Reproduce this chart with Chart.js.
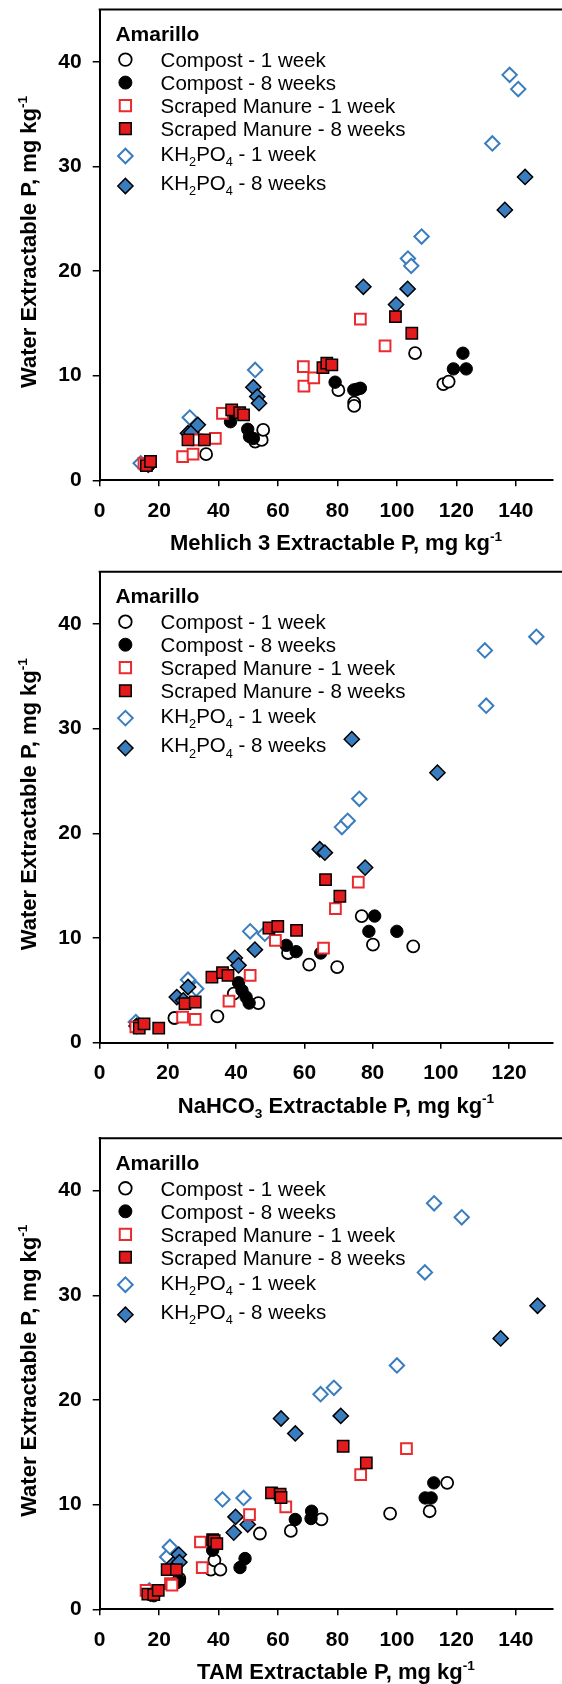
<!DOCTYPE html>
<html>
<head>
<meta charset="utf-8">
<script src="https://cdn.jsdelivr.net/npm/chart.js@4"></script>
<style>
  body { margin: 0; background: #fff; }
  canvas { display: block; }
</style>
</head>
<body>
<canvas id="chartM3" width="562" height="562"></canvas>
<canvas id="chartNa" width="562" height="566"></canvas>
<canvas id="chartTam" width="562" height="556"></canvas>
<script>
// ---- data: [extractable P, water extractable P] in mg/kg ----
// Mehlich 3
var m3Compost1 = [[16,1.5],[35.8,2.5],[52.3,3.7],[54.5,3.86],[55.0,4.82],[80.3,8.62],[85.6,7.43],[85.6,7.11],[106.1,12.15],[115.6,9.19],[117.4,9.44]];
var m3Compost8 = [[16.5,1.4],[44.0,5.6],[49.8,4.88],[50.4,4.18],[51.7,4.0],[79.2,9.38],[85.5,8.64],[86.5,8.7],[87.7,8.8],[119.0,10.65],[122.2,12.15],[123.3,10.65]];
var m3Manure1 = [[14.9,1.63],[17.1,1.8],[27.9,2.27],[31.4,2.5],[32.5,3.86],[38.9,4.0],[41.3,6.4],[68.5,10.87],[68.7,9.0],[72.0,9.8],[87.7,15.4],[96.0,12.85]];
var m3Manure8 = [[15.7,1.4],[17.1,1.8],[29.7,3.86],[35.2,3.86],[44.4,6.73],[47.1,6.47],[48.4,6.25],[75.1,10.78],[76.4,11.2],[78.1,11.03],[99.5,15.65],[105.0,14.06]];
var m3Kh1 = [[13.8,1.63],[16.0,1.63],[30.3,6.0],[52.3,10.55],[103.7,21.2],[104.8,20.5],[108.3,23.3],[132.1,32.2],[137.9,38.76],[140.8,37.4]];
var m3Kh8 = [[16.3,1.5],[29.7,4.5],[30.8,4.56],[33.0,5.3],[51.7,8.9],[53.0,8.0],[53.6,7.37],[88.7,18.5],[99.7,16.8],[103.6,18.3],[136.3,25.85],[143.1,29.0]];

// NaHCO3
var naCompost1 = [[11,1.6],[21.9,2.36],[34.5,2.51],[39.3,4.68],[46.5,3.79],[55.2,8.57],[61.4,7.45],[69.6,7.23],[76.8,12.1],[80.1,9.37],[91.9,9.21]];
var naCompost8 = [[10.8,1.45],[40.7,5.73],[41.7,5.0],[42.9,4.36],[43.8,3.79],[54.7,9.3],[57.6,8.7],[64.8,8.57],[78.9,10.64],[80.6,12.1],[87.1,10.64]];
var naManure1 = [[10.6,1.5],[24.3,2.45],[28.0,2.23],[37.9,3.98],[44.1,6.43],[51.5,9.78],[65.6,9.04],[69.1,12.8],[75.8,15.35]];
var naManure8 = [[11.6,1.4],[13.0,1.8],[17.3,1.4],[25.0,3.73],[28.0,3.89],[32.9,6.27],[36.0,6.69],[37.6,6.43],[49.6,10.96],[52.2,11.12],[57.7,10.74],[66.2,15.58],[70.4,13.99]];
var naKh1 = [[10.6,1.97],[25.9,6.02],[28.3,5.16],[44.1,10.64],[48.4,10.42],[71.0,20.6],[72.7,21.2],[76.1,23.3],[112.9,37.48],[113.3,32.2],[128.0,38.78]];
var naKh8 = [[10.8,1.6],[22.6,4.36],[24.5,4.04],[25.9,5.32],[39.6,8.1],[40.7,7.39],[45.5,8.89],[64.5,18.48],[66.0,18.16],[73.9,29.0],[77.8,16.73],[99.0,25.8]];

// TAM
var tamCompost1 = [[17,1.5],[25.8,2.55],[26.8,2.93],[37.4,3.79],[38.6,4.68],[40.6,3.79],[53.9,7.24],[64.3,7.49],[74.6,8.6],[97.7,9.15],[111.0,9.37],[116.9,12.08]];
var tamCompost8 = [[18.2,1.3],[26.8,2.7],[38.0,5.64],[47.2,3.99],[48.9,4.85],[65.8,8.58],[71.1,8.67],[71.3,9.37],[109.5,10.64],[111.5,10.64],[112.4,12.08]];
var tamManure1 = [[15.6,1.8],[23.8,2.45],[24.3,2.3],[33.9,6.43],[34.5,3.98],[50.4,9.05],[62.6,9.78],[87.8,12.87],[103.2,15.36]];
var tamManure8 = [[16.2,1.45],[18.2,1.4],[19.7,1.8],[22.7,3.79],[25.8,3.79],[38.0,6.66],[38.5,6.55],[39.4,6.28],[57.8,11.12],[60.7,10.99],[61.0,10.68],[81.9,15.58],[89.7,13.99]];
var tamKh1 = [[16.7,1.8],[22.7,5.0],[23.6,5.96],[41.3,10.5],[48.4,10.64],[74.3,20.55],[78.8,21.16],[100.0,23.3],[109.4,32.19],[112.5,38.79],[121.8,37.45]];
var tamKh8 = [[17,1.5],[25.0,4.37],[26.6,5.23],[26.8,4.5],[45.1,7.33],[45.7,8.83],[49.8,8.1],[61.0,18.23],[65.8,16.8],[81.1,18.48],[134.9,25.88],[147.3,29.0]];

var xTicksWide = [0, 20, 40, 60, 80, 100, 120, 140];
var xTicksNa = [0, 20, 40, 60, 80, 100, 120];
var yTicks = [0, 10, 20, 30, 40];

var siteName = 'Amarillo';
// legend text, parts: [text, 'sub'|'sup'|undefined]
var seriesNames = [
  [['Compost - 1 week']],
  [['Compost - 8 weeks']],
  [['Scraped Manure - 1 week']],
  [['Scraped Manure - 8 weeks']],
  [['KH'], ['2', 'sub'], ['PO'], ['4', 'sub'], [' - 1 week']],
  [['KH'], ['2', 'sub'], ['PO'], ['4', 'sub'], [' - 8 weeks']]
];
var yTitle = [['Water Extractable P, mg kg'], ['-1', 'sup']];

var FONT = '"Liberation Sans", Arial, Helvetica, sans-serif';
var BLUE = '#3a7dbf';
var RED = '#e41b1c';
var RED_LINE = '#ea2a2e';

// marker styles in legend order
var styles = [
  { pointStyle: 'circle', r: 6, bg: '#fff', border: '#000', bw: 1.8, order: 3 },
  { pointStyle: 'circle', r: 6.2, bg: '#000', border: '#000', bw: 1, order: 2 },
  { pointStyle: 'rect', r: 7.6, bg: '#fff', border: RED_LINE, bw: 2, order: 1 },
  { pointStyle: 'rect', r: 8, bg: RED, border: '#000', bw: 1.5, order: 0 },
  { pointStyle: 'rectRot', r: 7.2, bg: '#fff', border: BLUE, bw: 2, order: 5 },
  { pointStyle: 'rectRot', r: 7.6, bg: BLUE, border: '#000', bw: 1.5, order: 4 }
];

function richWidth(ctx, parts, size, weight) {
  var w = 0;
  parts.forEach(function(p) {
    var s = p[1] ? size * 0.62 : size;
    ctx.font = weight + ' ' + s + 'px ' + FONT;
    w += ctx.measureText(p[0]).width;
  });
  return w;
}

// draws text with sub/superscripts, y is the baseline
function drawRich(ctx, parts, x, y, size, weight, align) {
  var w = richWidth(ctx, parts, size, weight);
  var cx = align === 'center' ? x - w / 2 : x;
  ctx.textAlign = 'left';
  ctx.textBaseline = 'alphabetic';
  ctx.fillStyle = '#000';
  parts.forEach(function(p) {
    var s = p[1] ? size * 0.62 : size;
    var dy = p[1] === 'sub' ? size * 0.25 : (p[1] === 'sup' ? -size * 0.42 : 0);
    ctx.font = weight + ' ' + s + 'px ' + FONT;
    ctx.fillText(p[0], cx, y + dy);
    cx += ctx.measureText(p[0]).width;
  });
}

var decorPlugin = {
  id: 'decor',
  afterDraw: function(chart, args, opts) {
    var ctx = chart.ctx;
    var a = chart.chartArea;
    ctx.save();

    // top frame line (the box runs off the right edge)
    ctx.strokeStyle = '#000';
    ctx.lineWidth = 2;
    ctx.beginPath();
    ctx.moveTo(a.left - 1, a.top);
    ctx.lineTo(chart.width, a.top);
    ctx.stroke();

    // legend
    ctx.font = 'bold 21px ' + FONT;
    ctx.fillStyle = '#000';
    ctx.textAlign = 'left';
    ctx.textBaseline = 'alphabetic';
    ctx.fillText(siteName, 115.4, a.top + 24 + 7.5);

    var textRows = [50, 73, 96, 119, 144, 173.4];
    var markRows = [50, 73, 96, 119, 146.4, 176.4];
    var legendR = [6.3, 6.5, 8, 8.2, 7.3, 7.6];
    seriesNames.forEach(function(parts, i) {
      var st = styles[i];
      ctx.fillStyle = st.bg;
      ctx.strokeStyle = st.border;
      ctx.lineWidth = st.bw;
      Chart.helpers.drawPoint(ctx, { pointStyle: st.pointStyle, radius: legendR[i], rotation: 0, borderWidth: st.bw }, 125.4, a.top + markRows[i]);
      drawRich(ctx, parts, 160.6, a.top + textRows[i] + 7.3, 20.5, 'normal', 'left');
    });

    // x axis title
    drawRich(ctx, opts.xTitle, 336, a.bottom + 62 + 7.8, 22, 'bold', 'center');

    // y axis title
    ctx.save();
    ctx.translate(28, (a.top + a.bottom) / 2 - 3);
    ctx.rotate(-Math.PI / 2);
    drawRich(ctx, yTitle, 0, 7.8, 22, 'bold', 'center');
    ctx.restore();

    ctx.restore();
  }
};

function toPoints(arr) {
  return arr.map(function(p) { return { x: p[0], y: p[1] }; });
}

function makeChart(id, series, xMax, xTicks, xTitle, topPad) {
  var canvas = document.getElementById(id);
  var plotH = 471;
  var xAxisH = canvas.height - topPad - plotH;
  var datasets = series.map(function(d, i) {
    var st = styles[i];
    return {
      label: seriesNames[i].map(function(p) { return p[0]; }).join(''),
      data: toPoints(d),
      pointStyle: st.pointStyle,
      pointRadius: st.r,
      pointBackgroundColor: st.bg,
      pointBorderColor: st.border,
      pointBorderWidth: st.bw,
      showLine: false,
      order: st.order
    };
  });
  return new Chart(canvas.getContext('2d'), {
    type: 'scatter',
    data: { datasets: datasets },
    plugins: [decorPlugin],
    options: {
      responsive: false,
      animation: false,
      events: [],
      layout: { padding: { top: topPad, left: 0, right: 0, bottom: 0 } },
      plugins: {
        legend: { display: false },
        tooltip: { enabled: false },
        decor: { xTitle: xTitle }
      },
      scales: {
        x: {
          type: 'linear',
          min: 0,
          max: xMax,
          afterBuildTicks: function(s) { s.ticks = xTicks.map(function(v) { return { value: v }; }); },
          afterFit: function(s) { s.height = xAxisH; s.paddingLeft = 0; s.paddingRight = 0; },
          grid: { drawOnChartArea: false, drawTicks: true, tickLength: 6, color: '#000', lineWidth: 1.5 },
          border: { display: true, color: '#000', width: 2 },
          ticks: { color: '#000', font: { family: FONT, size: 21, weight: 'bold' }, padding: 12, maxRotation: 0, autoSkip: false }
        },
        y: {
          type: 'linear',
          min: 0,
          max: 45,
          afterBuildTicks: function(s) { s.ticks = yTicks.map(function(v) { return { value: v }; }); },
          afterFit: function(s) { s.width = 99.7; s.paddingTop = 0; s.paddingBottom = 0; },
          grid: { drawOnChartArea: false, drawTicks: true, tickLength: 7, color: '#000', lineWidth: 1.5 },
          border: { display: true, color: '#000', width: 2 },
          ticks: { color: '#000', font: { family: FONT, size: 21, weight: 'bold' }, padding: 11 }
        }
      }
    }
  });
}

makeChart('chartM3', [m3Compost1, m3Compost8, m3Manure1, m3Manure8, m3Kh1, m3Kh8], 152.3, xTicksWide,
  [['Mehlich 3 Extractable P, mg kg'], ['-1', 'sup']], 9.3);
makeChart('chartNa', [naCompost1, naCompost8, naManure1, naManure8, naKh1, naKh8], 132.7, xTicksNa,
  [['NaHCO'], ['3', 'sub'], [' Extractable P, mg kg'], ['-1', 'sup']], 9.7);
makeChart('chartTam', [tamCompost1, tamCompost8, tamManure1, tamManure8, tamKh1, tamKh8], 152.3, xTicksWide,
  [['TAM Extractable P, mg kg'], ['-1', 'sup']], 10.3);
</script>
</body>
</html>
